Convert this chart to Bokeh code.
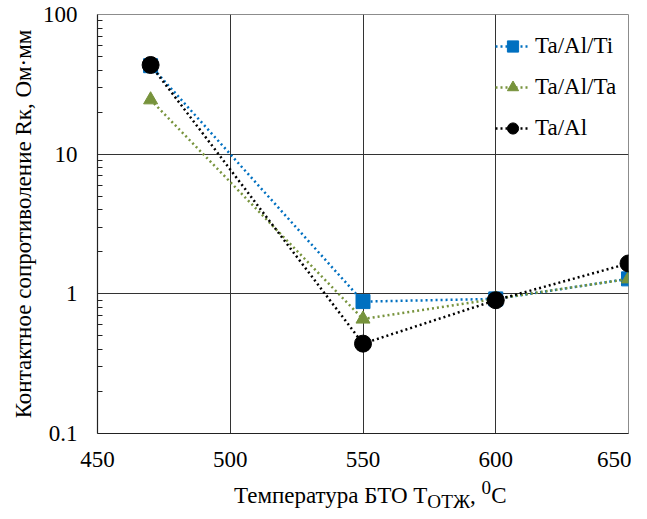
from bokeh.plotting import figure
from bokeh.models import (FixedTicker, CustomJSTickFormatter, Legend, LegendItem, Div)
from bokeh.layouts import column
from bokeh.embed import file_html
from bokeh.resources import INLINE

# ---- data ----
temps = [470, 550, 600, 650]
ta_al_ti = [43.0, 0.88, 0.92, 1.28]
ta_al_ta = [24.5, 0.66, 0.92, 1.28]
ta_al = [43.5, 0.44, 0.90, 1.65]

x_ticks = [450, 500, 550, 600, 650]
y_ticks = [0.1, 1, 10, 100]
y_minor = [0.2, 0.3, 0.4, 0.5, 0.6, 0.7, 0.8, 0.9,
           2, 3, 4, 5, 6, 7, 8, 9,
           20, 30, 40, 50, 60, 70, 80, 90]

y_title = "Контактное сопротиволение Rк, Ом·мм"
x_title_html = "Температура БТО T<sub>ОТЖ</sub>, <sup>0</sup>С"

TICK_FONT = "Liberation Serif"

p = figure(width=631, height=479,
           x_range=(450, 650), y_range=(0.1, 100), y_axis_type="log",
           output_backend="svg", toolbar_location=None,
           min_border_left=97, min_border_right=3, min_border_top=14,
           min_border_bottom=46)
p.background_fill_color = "white"
p.border_fill_color = "white"
p.outline_line_color = "#8c8c8c"
p.outline_line_width = 1

# axes
p.xaxis.ticker = FixedTicker(ticks=x_ticks)
p.yaxis.ticker = FixedTicker(ticks=y_ticks, minor_ticks=y_minor)
p.yaxis.formatter = CustomJSTickFormatter(code="return String(tick)")
p.xaxis.major_label_text_font = TICK_FONT
p.yaxis.major_label_text_font = TICK_FONT
p.xaxis.major_label_text_font_size = "23px"
p.yaxis.major_label_text_font_size = "23px"
p.xaxis.major_label_text_color = "black"
p.yaxis.major_label_text_color = "black"
p.xaxis.axis_line_color = "#222222"
p.yaxis.axis_line_color = "#222222"
p.xaxis.axis_line_width = 1.2
p.yaxis.axis_line_width = 1.2
p.xaxis.major_tick_in = 0
p.xaxis.major_tick_out = 0
p.yaxis.major_tick_in = 0
p.yaxis.major_tick_out = 0
p.xaxis.minor_tick_in = 0
p.xaxis.minor_tick_out = 0
p.yaxis.minor_tick_in = 5
p.yaxis.minor_tick_out = 0
p.yaxis.minor_tick_line_color = "#222222"
p.xaxis.major_label_standoff = 18
p.yaxis.major_label_standoff = 20
p.yaxis.axis_label = y_title
p.yaxis.axis_label_text_font = "serif"
p.yaxis.axis_label_text_font_size = "23px"
p.yaxis.axis_label_text_font_style = "normal"
p.yaxis.axis_label_text_color = "black"
p.yaxis.axis_label_standoff = 4

p.xgrid.ticker = FixedTicker(ticks=x_ticks)
p.ygrid.ticker = FixedTicker(ticks=y_ticks)
p.xgrid.grid_line_color = "#333333"
p.ygrid.grid_line_color = "#333333"

# series
series = [
    ("Ta/Al/Ti", ta_al_ti, "#0070C0", "square", 14),
    ("Ta/Al/Ta", ta_al_ta, "#77933C", "triangle", 14),
    ("Ta/Al", ta_al, "#000000", "circle", 17),
]
items = []
for name, vals, col, mk, sz in series:
    r1 = p.line(temps, vals, line_color=col, line_width=2.5, line_dash="2 3")
    r2 = p.scatter(temps, vals, marker=mk, size=sz, fill_color=col, line_color=col)
    items.append(LegendItem(label=name, renderers=[r1, r2]))

legend = Legend(items=items, location=(398, 291),
                label_text_font=TICK_FONT, label_text_font_size="23px",
                label_text_color="black", glyph_width=35, glyph_height=28,
                label_height=26, spacing=13, padding=2, margin=0,
                label_standoff=5, border_line_color=None,
                background_fill_alpha=0)
p.add_layout(legend, "center")

div = Div(text=('<div style="position:relative; top:-9px; line-height:26px;">'
                + x_title_html + '</div>'),
          width=631, height=24,
          styles={"font-family": "'Liberation Serif', 'Times New Roman', serif",
                  "font-size": "23px", "color": "black",
                  "padding-left": "229px"})

open("out.html", "w").write(file_html(column(p, div, spacing=0), INLINE))
